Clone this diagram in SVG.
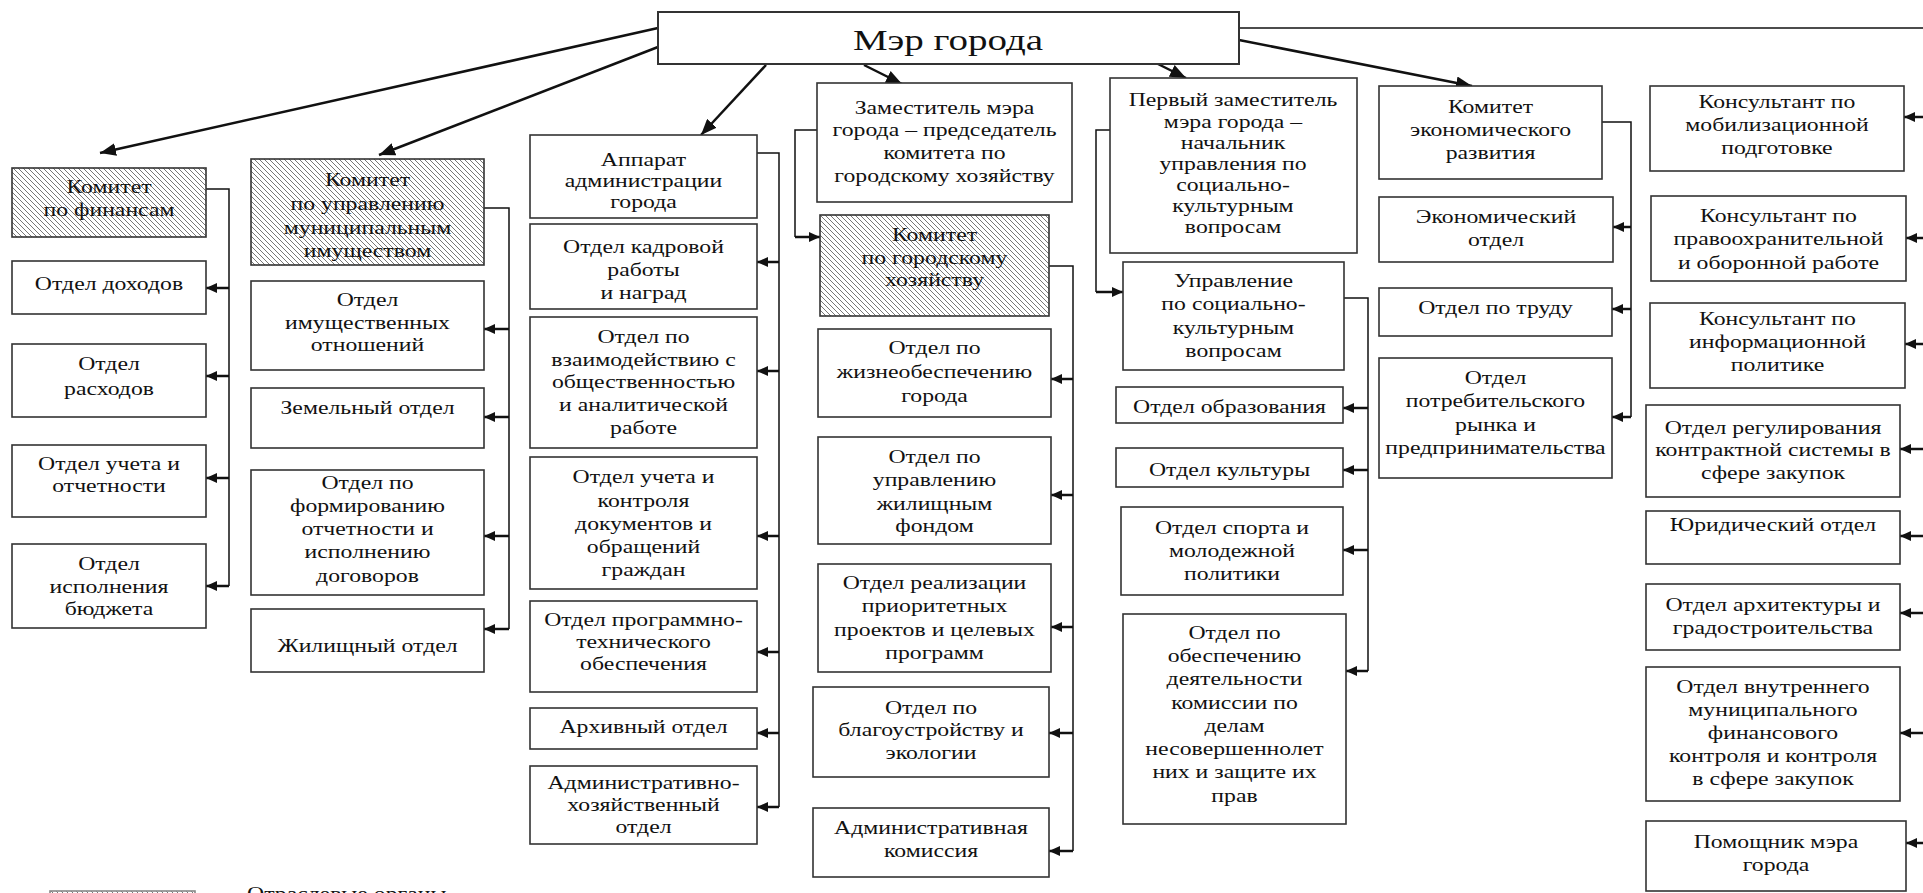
<svg xmlns="http://www.w3.org/2000/svg" width="1923" height="893" viewBox="0 0 1923 893">
<defs>
<pattern id="hatch" patternUnits="userSpaceOnUse" width="5" height="5">
<rect width="5" height="5" fill="#fff"/>
<path d="M-1,-1 L6,6 M4,-1 L6,1 M-1,4 L1,6" stroke="#777" stroke-width="1"/>
</pattern>
<marker id="ah" markerUnits="userSpaceOnUse" markerWidth="11" markerHeight="10" refX="11" refY="5" orient="auto">
<path d="M0,0 L11,5 L0,10 z" fill="#111"/>
</marker>
<marker id="ahBig" markerUnits="userSpaceOnUse" markerWidth="16" markerHeight="13" refX="16" refY="6.5" orient="auto">
<path d="M0,0 L16,6.5 L0,13 z" fill="#111"/>
</marker>
</defs>
<style>
.box{fill:#fff;stroke:#333;stroke-width:1.6}
.hatch{fill:url(#hatch);stroke:#333;stroke-width:1.6}
.t{font-family:"Liberation Serif","Times New Roman",serif;font-size:18px;fill:#111;text-anchor:middle}
.big{font-size:30px}
.ln{fill:none;stroke:#111;stroke-width:1.5}
.ar{fill:none;stroke:#111;stroke-width:2.5;marker-end:url(#ah)}
.top{fill:none;stroke:#111;stroke-width:2.5;marker-end:url(#ahBig)}
</style>
<rect width="1923" height="893" fill="#fff"/>

<g id="connectors">
<path class="ln" d="M1239,28 H1923"/>
<path class="top" d="M658,28 L100,153"/>
<path class="top" d="M658,47 L379,155"/>
<path class="top" d="M766,65 L701,135"/>
<path class="top" d="M864,65 L902,84"/>
<path class="top" d="M1154,62 L1186,78"/>
<path class="top" d="M1239,40 L1472,86"/>

<path class="ln" d="M206,189 H229 V586"/>
<path class="ar" d="M229,288 H206"/>
<path class="ar" d="M229,376 H206"/>
<path class="ar" d="M229,478 H206"/>
<path class="ar" d="M229,586 H206"/>

<path class="ln" d="M484,208 H509 V629"/>
<path class="ar" d="M509,329 H484"/>
<path class="ar" d="M509,417 H484"/>
<path class="ar" d="M509,536 H484"/>
<path class="ar" d="M509,629 H484"/>

<path class="ln" d="M757,153 H779 V807"/>
<path class="ar" d="M779,262 H757"/>
<path class="ar" d="M779,371 H757"/>
<path class="ar" d="M779,536 H757"/>
<path class="ar" d="M779,652 H757"/>
<path class="ar" d="M779,733 H757"/>
<path class="ar" d="M779,807 H757"/>

<path class="ln" d="M817,130 H795 V237"/>
<path class="ar" d="M795,237 H820"/>

<path class="ln" d="M1049,266 H1073 V851"/>
<path class="ar" d="M1073,379 H1051"/>
<path class="ar" d="M1073,495 H1051"/>
<path class="ar" d="M1073,627 H1051"/>
<path class="ar" d="M1073,733 H1049"/>
<path class="ar" d="M1073,851 H1049"/>

<path class="ln" d="M1110,130 H1096 V292"/>
<path class="ar" d="M1096,292 H1123"/>

<path class="ln" d="M1344,298 H1368 V671"/>
<path class="ar" d="M1368,408 H1343"/>
<path class="ar" d="M1368,470 H1343"/>
<path class="ar" d="M1368,550 H1343"/>
<path class="ar" d="M1368,671 H1346"/>

<path class="ln" d="M1602,122 H1631 V417"/>
<path class="ar" d="M1631,227 H1613"/>
<path class="ar" d="M1631,309 H1612"/>
<path class="ar" d="M1631,417 H1612"/>

<path class="ar" d="M1923,117 H1904"/>
<path class="ar" d="M1923,238 H1906"/>
<path class="ar" d="M1923,344 H1905"/>
<path class="ar" d="M1923,449 H1900"/>
<path class="ar" d="M1923,536 H1900"/>
<path class="ar" d="M1923,613 H1900"/>
<path class="ar" d="M1923,733 H1900"/>
<path class="ar" d="M1923,843 H1906"/>
</g>

<g id="mayor">
<rect class="box" x="658" y="12" width="581" height="52" style="stroke-width:2"/>
<text class="t big" transform="translate(948,0) scale(1.3,1)"><tspan x="0" y="50">Мэр города</tspan></text>
</g>

<g id="kom-fin">
<rect class="hatch" x="12" y="168" width="194" height="69"/>
<text class="t" transform="translate(109,0) scale(1.32,1)"><tspan x="0" y="193">Комитет</tspan><tspan x="0" y="216">по финансам</tspan></text>
</g>
<g id="otd-dohodov">
<rect class="box" x="12" y="261" width="194" height="53"/>
<text class="t" transform="translate(109,0) scale(1.32,1)"><tspan x="0" y="290">Отдел доходов</tspan></text>
</g>
<g id="otd-rashodov">
<rect class="box" x="12" y="344" width="194" height="73"/>
<text class="t" transform="translate(109,0) scale(1.32,1)"><tspan x="0" y="370">Отдел</tspan><tspan x="0" y="395">расходов</tspan></text>
</g>
<g id="otd-ucheta">
<rect class="box" x="12" y="445" width="194" height="72"/>
<text class="t" transform="translate(109,0) scale(1.32,1)"><tspan x="0" y="470">Отдел учета и</tspan><tspan x="0" y="492">отчетности</tspan></text>
</g>
<g id="otd-ispolneniya">
<rect class="box" x="12" y="544" width="194" height="84"/>
<text class="t" transform="translate(109,0) scale(1.32,1)"><tspan x="0" y="570">Отдел</tspan><tspan x="0" y="593">исполнения</tspan><tspan x="0" y="615">бюджета</tspan></text>
</g>

<g id="kom-imush">
<rect class="hatch" x="251" y="159" width="233" height="106"/>
<text class="t" transform="translate(367.5,0) scale(1.32,1)"><tspan x="0" y="186">Комитет</tspan><tspan x="0" y="210">по управлению</tspan><tspan x="0" y="234">муниципальным</tspan><tspan x="0" y="257">имуществом</tspan></text>
</g>
<g id="otd-imush">
<rect class="box" x="251" y="281" width="233" height="89"/>
<text class="t" transform="translate(367.5,0) scale(1.32,1)"><tspan x="0" y="306">Отдел</tspan><tspan x="0" y="329">имущественных</tspan><tspan x="0" y="351">отношений</tspan></text>
</g>
<g id="otd-zem">
<rect class="box" x="251" y="388" width="233" height="60"/>
<text class="t" transform="translate(367.5,0) scale(1.32,1)"><tspan x="0" y="414">Земельный отдел</tspan></text>
</g>
<g id="otd-form">
<rect class="box" x="251" y="470" width="233" height="125"/>
<text class="t" transform="translate(367.5,0) scale(1.32,1)"><tspan x="0" y="489">Отдел по</tspan><tspan x="0" y="512">формированию</tspan><tspan x="0" y="535">отчетности и</tspan><tspan x="0" y="558">исполнению</tspan><tspan x="0" y="582">договоров</tspan></text>
</g>
<g id="otd-zhil">
<rect class="box" x="251" y="609" width="233" height="63"/>
<text class="t" transform="translate(367.5,0) scale(1.32,1)"><tspan x="0" y="652">Жилищный отдел</tspan></text>
</g>

<g id="apparat">
<rect class="box" x="530" y="135" width="227" height="83"/>
<text class="t" transform="translate(643.5,0) scale(1.32,1)"><tspan x="0" y="166">Аппарат</tspan><tspan x="0" y="187">администрации</tspan><tspan x="0" y="208">города</tspan></text>
</g>
<g id="otd-kadr">
<rect class="box" x="530" y="224" width="227" height="85"/>
<text class="t" transform="translate(643.5,0) scale(1.32,1)"><tspan x="0" y="253">Отдел кадровой</tspan><tspan x="0" y="276">работы</tspan><tspan x="0" y="299">и наград</tspan></text>
</g>
<g id="otd-vzaim">
<rect class="box" x="530" y="317" width="227" height="131"/>
<text class="t" transform="translate(643.5,0) scale(1.32,1)"><tspan x="0" y="343">Отдел по</tspan><tspan x="0" y="366">взаимодействию с</tspan><tspan x="0" y="388">общественностью</tspan><tspan x="0" y="411">и аналитической</tspan><tspan x="0" y="434">работе</tspan></text>
</g>
<g id="otd-uchet-dok">
<rect class="box" x="530" y="457" width="227" height="132"/>
<text class="t" transform="translate(643.5,0) scale(1.32,1)"><tspan x="0" y="483">Отдел учета и</tspan><tspan x="0" y="507">контроля</tspan><tspan x="0" y="530">документов и</tspan><tspan x="0" y="553">обращений</tspan><tspan x="0" y="576">граждан</tspan></text>
</g>
<g id="otd-prog">
<rect class="box" x="530" y="601" width="227" height="91"/>
<text class="t" transform="translate(643.5,0) scale(1.32,1)"><tspan x="0" y="626">Отдел программно-</tspan><tspan x="0" y="648">технического</tspan><tspan x="0" y="670">обеспечения</tspan></text>
</g>
<g id="otd-arh">
<rect class="box" x="530" y="708" width="227" height="41"/>
<text class="t" transform="translate(643.5,0) scale(1.32,1)"><tspan x="0" y="733">Архивный отдел</tspan></text>
</g>
<g id="otd-ahd">
<rect class="box" x="530" y="766" width="227" height="78"/>
<text class="t" transform="translate(643.5,0) scale(1.32,1)"><tspan x="0" y="789">Административно-</tspan><tspan x="0" y="811">хозяйственный</tspan><tspan x="0" y="833">отдел</tspan></text>
</g>

<g id="zam">
<rect class="box" x="817" y="83" width="255" height="119"/>
<text class="t" transform="translate(944.5,0) scale(1.32,1)"><tspan x="0" y="114">Заместитель мэра</tspan><tspan x="0" y="136">города – председатель</tspan><tspan x="0" y="159">комитета по</tspan><tspan x="0" y="182">городскому хозяйству</tspan></text>
</g>
<g id="kom-gh">
<rect class="hatch" x="820" y="215" width="229" height="101"/>
<text class="t" transform="translate(934.5,0) scale(1.32,1)"><tspan x="0" y="241">Комитет</tspan><tspan x="0" y="264">по городскому</tspan><tspan x="0" y="286">хозяйству</tspan></text>
</g>
<g id="otd-zhiz">
<rect class="box" x="818" y="329" width="233" height="88"/>
<text class="t" transform="translate(934.5,0) scale(1.32,1)"><tspan x="0" y="354">Отдел по</tspan><tspan x="0" y="378">жизнеобеспечению</tspan><tspan x="0" y="402">города</tspan></text>
</g>
<g id="otd-upr-zhil">
<rect class="box" x="818" y="437" width="233" height="107"/>
<text class="t" transform="translate(934.5,0) scale(1.32,1)"><tspan x="0" y="463">Отдел по</tspan><tspan x="0" y="486">управлению</tspan><tspan x="0" y="510">жилищным</tspan><tspan x="0" y="532">фондом</tspan></text>
</g>
<g id="otd-real">
<rect class="box" x="818" y="564" width="233" height="108"/>
<text class="t" transform="translate(934.5,0) scale(1.32,1)"><tspan x="0" y="589">Отдел реализации</tspan><tspan x="0" y="612">приоритетных</tspan><tspan x="0" y="636">проектов и целевых</tspan><tspan x="0" y="659">программ</tspan></text>
</g>
<g id="otd-blag">
<rect class="box" x="813" y="687" width="236" height="90"/>
<text class="t" transform="translate(931,0) scale(1.32,1)"><tspan x="0" y="714">Отдел по</tspan><tspan x="0" y="736">благоустройству и</tspan><tspan x="0" y="759">экологии</tspan></text>
</g>
<g id="adm-kom">
<rect class="box" x="813" y="808" width="236" height="69"/>
<text class="t" transform="translate(931,0) scale(1.32,1)"><tspan x="0" y="834">Административная</tspan><tspan x="0" y="857">комиссия</tspan></text>
</g>

<g id="perv-zam">
<rect class="box" x="1110" y="78" width="247" height="175"/>
<text class="t" transform="translate(1233,0) scale(1.32,1)"><tspan x="0" y="106">Первый заместитель</tspan><tspan x="0" y="128">мэра города –</tspan><tspan x="0" y="149">начальник</tspan><tspan x="0" y="170">управления по</tspan><tspan x="0" y="191">социально-</tspan><tspan x="0" y="212">культурным</tspan><tspan x="0" y="233">вопросам</tspan></text>
</g>
<g id="upr-sk">
<rect class="box" x="1123" y="262" width="221" height="108"/>
<text class="t" transform="translate(1233.5,0) scale(1.32,1)"><tspan x="0" y="287">Управление</tspan><tspan x="0" y="310">по социально-</tspan><tspan x="0" y="334">культурным</tspan><tspan x="0" y="357">вопросам</tspan></text>
</g>
<g id="otd-obr">
<rect class="box" x="1116" y="387" width="227" height="36"/>
<text class="t" transform="translate(1229.5,0) scale(1.32,1)"><tspan x="0" y="413">Отдел образования</tspan></text>
</g>
<g id="otd-kult">
<rect class="box" x="1116" y="448" width="227" height="39"/>
<text class="t" transform="translate(1229.5,0) scale(1.32,1)"><tspan x="0" y="476">Отдел культуры</tspan></text>
</g>
<g id="otd-sport">
<rect class="box" x="1121" y="507" width="222" height="88"/>
<text class="t" transform="translate(1232,0) scale(1.32,1)"><tspan x="0" y="534">Отдел спорта и</tspan><tspan x="0" y="557">молодежной</tspan><tspan x="0" y="580">политики</tspan></text>
</g>
<g id="otd-kdn">
<rect class="box" x="1123" y="614" width="223" height="210"/>
<text class="t" transform="translate(1234.5,0) scale(1.32,1)"><tspan x="0" y="639">Отдел по</tspan><tspan x="0" y="662">обеспечению</tspan><tspan x="0" y="685">деятельности</tspan><tspan x="0" y="709">комиссии по</tspan><tspan x="0" y="732">делам</tspan><tspan x="0" y="755">несовершеннолет</tspan><tspan x="0" y="778">них и защите их</tspan><tspan x="0" y="802">прав</tspan></text>
</g>

<g id="kom-ek">
<rect class="box" x="1379" y="86" width="223" height="93"/>
<text class="t" transform="translate(1490.5,0) scale(1.32,1)"><tspan x="0" y="113">Комитет</tspan><tspan x="0" y="136">экономического</tspan><tspan x="0" y="159">развития</tspan></text>
</g>
<g id="otd-ek">
<rect class="box" x="1379" y="197" width="234" height="65"/>
<text class="t" transform="translate(1496,0) scale(1.32,1)"><tspan x="0" y="223">Экономический</tspan><tspan x="0" y="246">отдел</tspan></text>
</g>
<g id="otd-trud">
<rect class="box" x="1379" y="288" width="233" height="48"/>
<text class="t" transform="translate(1495.5,0) scale(1.32,1)"><tspan x="0" y="314">Отдел по труду</tspan></text>
</g>
<g id="otd-potr">
<rect class="box" x="1379" y="358" width="233" height="120"/>
<text class="t" transform="translate(1495.5,0) scale(1.32,1)"><tspan x="0" y="384">Отдел</tspan><tspan x="0" y="407">потребительского</tspan><tspan x="0" y="431">рынка и</tspan><tspan x="0" y="454">предпринимательства</tspan></text>
</g>

<g id="kons-mob">
<rect class="box" x="1650" y="86" width="254" height="85"/>
<text class="t" transform="translate(1777,0) scale(1.32,1)"><tspan x="0" y="108">Консультант по</tspan><tspan x="0" y="131">мобилизационной</tspan><tspan x="0" y="154">подготовке</tspan></text>
</g>
<g id="kons-pravo">
<rect class="box" x="1651" y="196" width="255" height="85"/>
<text class="t" transform="translate(1778.5,0) scale(1.32,1)"><tspan x="0" y="222">Консультант по</tspan><tspan x="0" y="245">правоохранительной</tspan><tspan x="0" y="269">и оборонной работе</tspan></text>
</g>
<g id="kons-inf">
<rect class="box" x="1650" y="303" width="255" height="85"/>
<text class="t" transform="translate(1777.5,0) scale(1.32,1)"><tspan x="0" y="325">Консультант по</tspan><tspan x="0" y="348">информационной</tspan><tspan x="0" y="371">политике</tspan></text>
</g>
<g id="otd-reg">
<rect class="box" x="1646" y="405" width="254" height="92"/>
<text class="t" transform="translate(1773,0) scale(1.32,1)"><tspan x="0" y="434">Отдел регулирования</tspan><tspan x="0" y="456">контрактной системы в</tspan><tspan x="0" y="479">сфере закупок</tspan></text>
</g>
<g id="otd-yur">
<rect class="box" x="1646" y="511" width="254" height="53"/>
<text class="t" transform="translate(1773,0) scale(1.32,1)"><tspan x="0" y="531">Юридический отдел</tspan></text>
</g>
<g id="otd-arch">
<rect class="box" x="1646" y="584" width="254" height="66"/>
<text class="t" transform="translate(1773,0) scale(1.32,1)"><tspan x="0" y="611">Отдел архитектуры и</tspan><tspan x="0" y="634">градостроительства</tspan></text>
</g>
<g id="otd-vnutr">
<rect class="box" x="1646" y="667" width="254" height="134"/>
<text class="t" transform="translate(1773,0) scale(1.32,1)"><tspan x="0" y="693">Отдел внутреннего</tspan><tspan x="0" y="716">муниципального</tspan><tspan x="0" y="739">финансового</tspan><tspan x="0" y="762">контроля и контроля</tspan><tspan x="0" y="785">в сфере закупок</tspan></text>
</g>
<g id="pomoshnik">
<rect class="box" x="1646" y="821" width="260" height="70"/>
<text class="t" transform="translate(1776,0) scale(1.32,1)"><tspan x="0" y="848">Помощник мэра</tspan><tspan x="0" y="871">города</tspan></text>
</g>

<g id="legend">
<rect class="hatch" x="50" y="891" width="145" height="30" style="stroke:#888"/>
<text class="t" style="text-anchor:start" transform="translate(247,0) scale(1.32,1)"><tspan x="0" y="900">Отраслевые органы</tspan></text>
</g>
</svg>
